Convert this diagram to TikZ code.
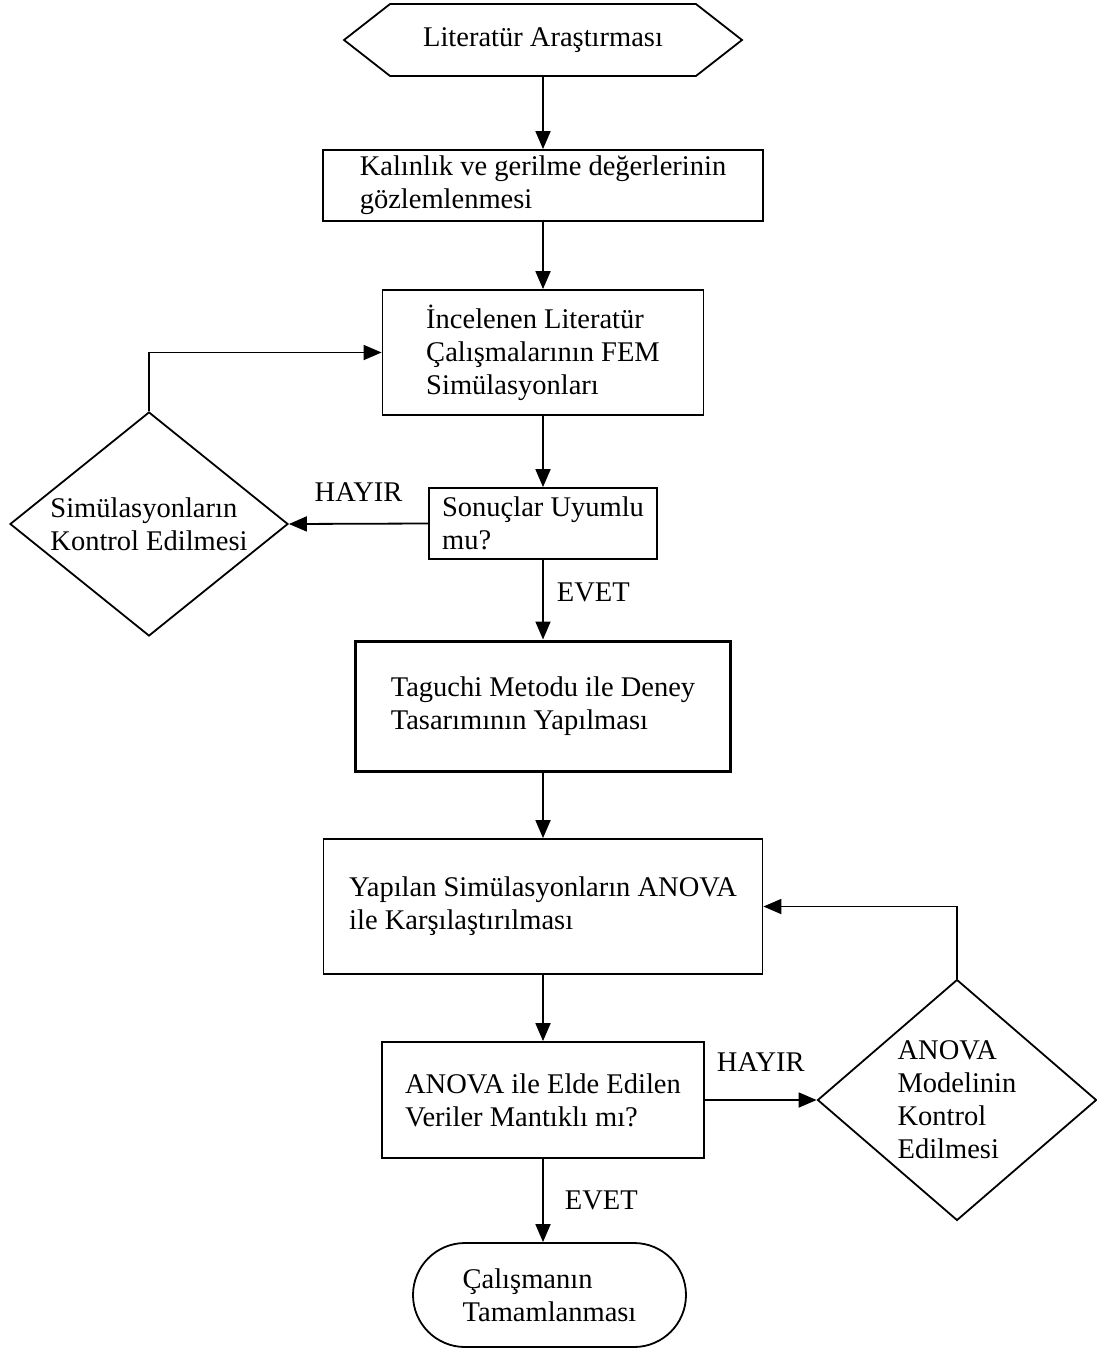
\documentclass[tikz,border=0pt]{standalone}
\usepackage{fontspec}
\setmainfont{Liberation Serif}
\usetikzlibrary{arrows.meta}
\usetikzlibrary{shapes.geometric, shapes.symbols, shapes.misc}

\tikzset{
  kutu/.style={draw, line width=1.8pt, rectangle, align=left, inner sep=3pt},
  karar/.style={draw, line width=1.8pt, diamond, align=left, inner sep=1pt},
  ok/.style={line width=1.8pt, -{Triangle[length=18pt,width=15pt]}},
  etiket/.style={inner sep=3pt},
}

\begin{document}
\begin{tikzpicture}[x=1pt, y=-1pt, font=\fontsize{28.5}{33}\selectfont]
\useasboundingbox (0,0) rectangle (1096,1349);

% kutular
\node[draw, line width=1.8pt, signal, signal to=west and east, signal pointer angle=76,
  minimum width=398pt, minimum height=72pt, inner sep=3pt] (lit) at (543,40) {Literatür Araştırması};
\node[kutu, minimum width=440pt, minimum height=71pt] (kal) at (543,185.5)
  {Kalınlık ve gerilme değerlerinin\\gözlemlenmesi};
\node[kutu, minimum width=321pt, minimum height=125pt] (inc) at (543,352.5)
  {İncelenen Literatür\\Çalışmalarının FEM\\Simülasyonları};
\node[kutu, minimum width=228pt, minimum height=71pt] (son) at (543,523.5)
  {Sonuçlar Uyumlu\\mu?};
\node[karar, aspect=1.24, minimum width=278pt, minimum height=224pt] (simk) at (149,524)
  {Simülasyonların\\Kontrol Edilmesi};
\node[kutu, line width=3pt, minimum width=375pt, minimum height=130pt] (tag) at (543,706)
  {Taguchi Metodu ile Deney\\Tasarımının Yapılması};
\node[kutu, minimum width=439pt, minimum height=135pt] (yap) at (543,906.5)
  {Yapılan Simülasyonların ANOVA\\ile Karşılaştırılması};
\node[kutu, minimum width=322pt, minimum height=116pt] (anv) at (543,1100)
  {ANOVA ile Elde Edilen\\Veriler Mantıklı mı?};
\node[karar, minimum width=279pt, minimum height=238pt] (anm) at (957,1100)
  {ANOVA\\Modelinin\\Kontrol\\Edilmesi};
\node[draw, line width=1.8pt, rounded rectangle, align=left, inner sep=3pt,
  minimum width=279pt, minimum height=104pt] (cal) at (549.5,1295)
  {Çalışmanın\\Tamamlanması};

% oklar
\draw[ok] (lit) -- (kal);
\draw[ok] (kal) -- (inc);
\draw[ok] (inc) -- (son);
\draw[ok] (son) -- (tag) node[etiket, pos=0.41, right=10pt] {EVET};
\draw[ok] (son.west) -- (simk.east) node[etiket, midway, above=18pt] {HAYIR};
\draw[ok] (simk.north) |- (inc.west);
\draw[ok] (tag) -- (yap);
\draw[ok] (yap) -- (anv);
\draw[ok] (anv.east) -- (anm.west) node[etiket, midway, above=25pt] {HAYIR};
\draw[ok] (anm.north) |- (yap.east);
\draw[ok] (anv.south) -- (anv.south |- cal.north) node[etiket, midway, right=18pt] {EVET};

\end{tikzpicture}
\end{document}
